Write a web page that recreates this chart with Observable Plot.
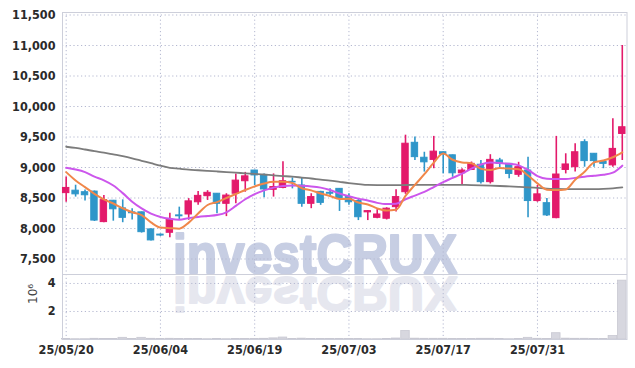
<!DOCTYPE html>
<html><head><meta charset="utf-8">
<script src="https://cdn.jsdelivr.net/npm/d3@7"></script>
<script src="https://cdn.jsdelivr.net/npm/@observablehq/plot@0.6"></script>
<style>
body{margin:0;background:#fff;}
#wrap{width:635px;height:368px;position:relative;overflow:hidden;background:#fff}
#wrap svg{display:block}
</style></head><body><div id="wrap"></div>
<script>
const dates = ["25/05/20","25/05/21","25/05/22","25/05/23","25/05/26","25/05/27","25/05/28","25/05/29","25/05/30","25/06/02",
"25/06/04","25/06/05","25/06/09","25/06/10","25/06/11","25/06/12","25/06/13","25/06/16","25/06/17","25/06/18",
"25/06/19","25/06/20","25/06/23","25/06/24","25/06/25","25/06/26","25/06/27","25/06/30","25/07/01","25/07/02",
"25/07/03","25/07/04","25/07/07","25/07/08","25/07/09","25/07/10","25/07/11","25/07/14","25/07/15","25/07/16",
"25/07/17","25/07/18","25/07/21","25/07/22","25/07/23","25/07/24","25/07/25","25/07/28","25/07/29","25/07/30",
"25/07/31","25/08/01","25/08/04","25/08/05","25/08/06","25/08/07","25/08/08","25/08/11","25/08/12","25/08/13"];
const opens = [8580,8620,8595,8605,8105,8455,8330,8265,8265,7985, 7900,7930,8215,8230,8430,8530,8570,8405,8570,8775,
8950,8870,8635,8665,8765,8705,8405,8600,8585,8650, 8515,8450,8265,8175,8160,8350,8595,9405,9160,9125,
9250,9200,8905,8960,9045,8760,9115,9060,8880,8950, 8450,8415,8170,8960,9005,9415,9225,9090,9035,9550];
const highs = [8845,8710,8630,8615,8540,8460,8470,8325,8270,7995, 7910,8250,8350,8490,8605,8620,8575,8570,8895,8920,
8955,8895,8895,9095,8830,8830,8570,8610,8650,8655, 8570,8490,8295,8310,8340,8635,9530,9500,9250,9510,
9255,9205,8980,9090,9115,9210,9150,9065,9085,9170, 8705,8490,9510,9225,9390,9455,9230,9115,9800,11000];
const lows = [8430,8515,8450,8115,8095,8120,8095,8140,7925,7795, 7870,7850,8135,8135,8380,8460,8240,8195,8405,8595,
8705,8505,8515,8650,8650,8350,8325,8380,8510,8280, 8380,8130,8130,8160,8140,8270,8560,9115,8925,8980,
8895,8840,8720,8950,8730,8730,8990,8815,8840,8175, 8430,8195,8160,8895,8925,9005,9005,8980,9005,9115];
const closes = [8665,8560,8545,8130,8465,8315,8175,8250,7940,7805, 7885,8145,8200,8445,8535,8585,8405,8540,8785,8855,
8870,8640,8680,8775,8755,8405,8515,8420,8570,8500, 8430,8185,8285,8230,8325,8515,9390,9170,9085,9260,
9215,8905,8950,9060,8760,9125,9060,8895,9005,8450, 8560,8215,8885,9050,9250,9105,9105,9060,9305,9660];
const ma5 = [8924,8787,8678,8569,8478,8410,8332,8267,8220,8100, 8015,8006,7998,8096,8245,8385,8433,8500,8565,8632,
8690,8738,8765,8765,8745,8660,8625,8574,8533,8484, 8487,8425,8394,8330,8295,8306,8535,8715,8890,9080,
9228,9127,9083,9070,8980,8960,8990,8982,8972,8870, 8740,8635,8630,8640,8800,8930,9085,9115,9168,9250];
const ma20 = [8995,8967,8924,8850,8790,8705,8580,8440,8330,8245, 8190,8160,8145,8170,8190,8205,8220,8265,8370,8480,
8565,8625,8670,8695,8705,8700,8690,8670,8630,8575, 8530,8490,8460,8420,8400,8405,8480,8540,8600,8680,
8760,8830,8900,8980,9050,9080,9075,9060,9035,8960, 8860,8815,8810,8810,8830,8850,8865,8880,8915,9030];
const ma60 = [9340,9320,9295,9268,9245,9215,9185,9150,9110,9070, 9030,8995,8980,8965,8955,8945,8935,8925,8915,8905,
8895,8885,8870,8860,8850,8835,8820,8800,8785,8765, 8745,8728,8714,8712,8712,8712,8713,8714,8715,8716,
8716,8716,8715,8712,8708,8703,8697,8690,8683,8675, 8665,8655,8650,8647,8645,8645,8646,8650,8658,8673];
const volumes = [0.03,0.02,0.02,0.05,0.04,0.03,0.12,0.03,0.12,0.05, 0.03,0.05,0.04,0.03,0.03,0.02,0.03,0.02,0.04,0.03,
0.03,0.05,0.08,0.14,0.04,0.06,0.03,0.03,0.04,0.03, 0.04,0.03,0.02,0.02,0.03,0.07,0.60,0.06,0.05,0.05,
0.05,0.04,0.03,0.04,0.05,0.05,0.03,0.02,0.03,0.12, 0.05,0.04,0.45,0.06,0.05,0.05,0.03,0.03,0.25,4.20];
const yTicks = [7500,8000,8500,9000,9500,10000,10500,11000,11500];
const volTicks = [2,4];
const dateTickIdx = [0,10,20,30,40,50];

const rows = dates.map((d,i)=>({i, date:d, open:opens[i], high:highs[i], low:lows[i], close:closes[i],
  vol:volumes[i], ma5:ma5[i], ma20:ma20[i], ma60:ma60[i]}));
const RED = "#e31a6b", BLUE = "#2f96c9";
const col = d => d.close >= d.open ? RED : BLUE;
const W = 635, ML = 62, MR = 8.5;
const FONT = '"Liberation Sans Narrow","DejaVu Sans Condensed","Liberation Sans",sans-serif';
const xDomain = [-0.39, 59.5];
const grid = {stroke:"#b4b8d0", strokeOpacity:1, strokeDasharray:"1.2,2.6", strokeWidth:1};
const styleObj = {fontFamily: FONT, fontSize:"12.5px", fontWeight:"bold", color:"#2a2a2a", background:"transparent"};

const main = Plot.plot({
  width: W, height: 274, marginTop: 12, marginBottom: 0, marginLeft: ML, marginRight: MR,
  style: styleObj,
  x: {type:"linear", domain: xDomain, axis: null},
  y: {domain: [7246, 11541]},
  marks: [
    Plot.gridY(yTicks, grid),
    Plot.gridX(dateTickIdx, grid),
    Plot.axisY(yTicks, {tickSize:0, tickPadding:7, tickFormat: d3.format(","), label:null, fill:"#2a2a2a"}),
    Plot.frame({stroke:"#cdcfda"}),
    Plot.ruleX(rows, {x:"i", y1:"low", y2:"high", stroke: col, strokeWidth:1.6}),
    Plot.rect(rows, {x1: d=>d.i-0.34, x2: d=>d.i+0.34, y1:"open", y2:"close", fill: col, stroke: col, strokeWidth:1}),
    Plot.line(rows, {x:"i", y:"ma60", stroke:"#7c7c7c", strokeWidth:1.8, curve:"monotone-x"}),
    Plot.line(rows, {x:"i", y:"ma20", stroke:"#cc56ec", strokeWidth:2, curve:"monotone-x"}),
    Plot.line(rows, {x:"i", y:"ma5", stroke:"#f0874a", strokeWidth:2, curve:"monotone-x"})
  ]
});

const vol = Plot.plot({
  width: W, height: 94, marginTop: 0, marginBottom: 29, marginLeft: ML, marginRight: MR,
  style: styleObj,
  x: {type:"linear", domain: xDomain},
  y: {domain: [0, 4.64]},
  marks: [
    Plot.gridY(volTicks, grid),
    Plot.gridX(dateTickIdx, grid),
    Plot.rectY(rows, {x1: d=>d.i-0.45, x2: d=>d.i+0.45, y:"vol", fill:"#d7d7df", stroke:"#c8c8d2", strokeWidth:0.8}),
    Plot.axisY(volTicks, {tickSize:0, tickPadding:7, label:null, fill:"#2a2a2a"}),
    Plot.text(["10⁶"], {frameAnchor:"left", dx:-29, dy:-3, rotate:-90, fontWeight:"normal", fontSize:12, fill:"#444",
      fontFamily:"DejaVu Sans, sans-serif"}),
    Plot.axisX(dateTickIdx, {tickSize:0, tickPadding:6, tickFormat: i => dates[i], label:null, fill:"#2a2a2a"}),
    Plot.frame({stroke:"#cdcfda"})
  ]
});

const wrap = document.getElementById("wrap");
wrap.appendChild(main);
wrap.appendChild(vol);

// watermark "investCRUX" with its reflection (decoration only)
function addMark(svg, y, sy, color) {
  d3.select(svg).insert("text", "style + *")
    .attr("transform", `translate(173,${y}) scale(1,${sy})`)
    .attr("x", 0).attr("y", 0)
    .attr("text-anchor", "start")
    .attr("font-family", '"Liberation Sans", Arial, sans-serif')
    .attr("font-weight", "bold")
    .attr("font-size", 56)
    .attr("textLength", 284)
    .attr("lengthAdjust", "spacingAndGlyphs")
    .attr("fill", color)
    .attr("stroke", color)
    .attr("stroke-width", 2.2)
    .attr("stroke-linejoin", "round")
    .text("investCRUX");
}
addMark(main, 272.5, 1, "#c7cee3");
addMark(vol, 2.5, -0.85, "#e6e7ef");
</script></body></html>
